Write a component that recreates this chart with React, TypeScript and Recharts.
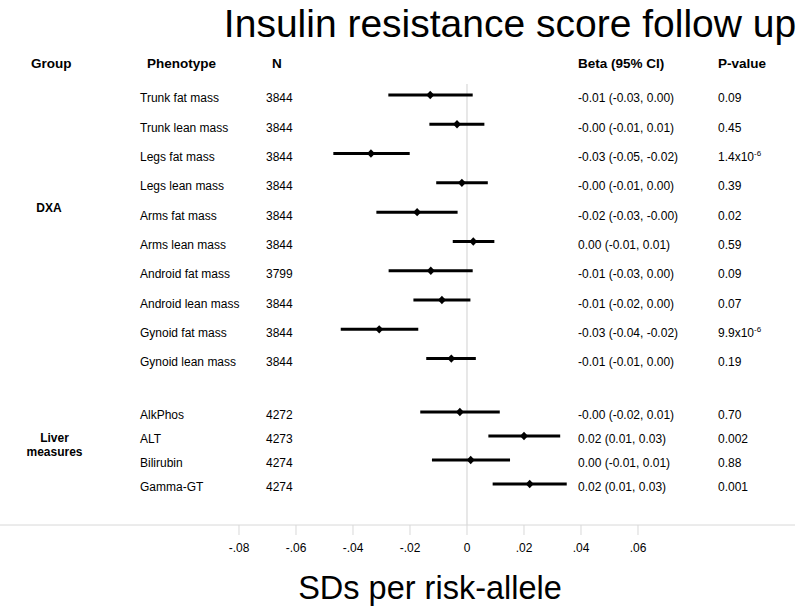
import React from 'react';
import { ScatterChart, Scatter, XAxis, YAxis, ErrorBar, ReferenceLine } from 'recharts';

const groups = ['DXA', 'DXA', 'DXA', 'DXA', 'DXA', 'DXA', 'DXA', 'DXA', 'DXA', 'DXA', 'Liver', 'Liver', 'Liver', 'Liver'];
const phenotypes = [
  'Trunk fat mass', 'Trunk lean mass', 'Legs fat mass', 'Legs lean mass', 'Arms fat mass',
  'Arms lean mass', 'Android fat mass', 'Android lean mass', 'Gynoid fat mass', 'Gynoid lean mass',
  'AlkPhos', 'ALT', 'Bilirubin', 'Gamma-GT',
];
const sampleSizes = [3844, 3844, 3844, 3844, 3844, 3844, 3799, 3844, 3844, 3844, 4272, 4273, 4274, 4274];
const betas = [-0.0129, -0.0035, -0.0337, -0.0018, -0.0175, 0.0022, -0.0127, -0.0088, -0.0308, -0.0055, -0.0025, 0.02, 0.0013, 0.022];
const ciLow = [-0.0276, -0.0132, -0.0469, -0.0108, -0.0318, -0.005, -0.0275, -0.0188, -0.0443, -0.0143, -0.0164, 0.0075, -0.0123, 0.009];
const ciHigh = [0.002, 0.0061, -0.0201, 0.0073, -0.0033, 0.0096, 0.002, 0.0012, -0.0171, 0.0031, 0.0115, 0.0327, 0.0151, 0.035];
const betaLabels = [
  '-0.01 (-0.03, 0.00)', '-0.00 (-0.01, 0.01)', '-0.03 (-0.05, -0.02)', '-0.00 (-0.01, 0.00)', '-0.02 (-0.03, -0.00)',
  '0.00 (-0.01, 0.01)', '-0.01 (-0.03, 0.00)', '-0.01 (-0.02, 0.00)', '-0.03 (-0.04, -0.02)', '-0.01 (-0.01, 0.00)',
  '-0.00 (-0.02, 0.01)', '0.02 (0.01, 0.03)', '0.00 (-0.01, 0.01)', '0.02 (0.01, 0.03)',
];
const pValues = ['0.09', '0.45', '1.4x10^-6', '0.39', '0.02', '0.59', '0.09', '0.07', '9.9x10^-6', '0.19', '0.70', '0.002', '0.88', '0.001'];
const xTicks = [-0.08, -0.06, -0.04, -0.02, 0, 0.02, 0.04, 0.06];

const FONT = '"Liberation Sans", Arial, sans-serif';

// row slots: DXA rows one unit apart, liver rows a bit tighter after a gap
let dxaCount = 0;
let liverCount = 0;
const rows = phenotypes.map((name, i) => {
  const slot = groups[i] === 'DXA' ? dxaCount++ : 10.82 + 0.82 * liverCount++;
  return {
    slot,
    beta: betas[i],
    err: [betas[i] - ciLow[i], ciHigh[i] - betas[i]],
    name,
    n: sampleSizes[i],
    label: betaLabels[i],
    p: pValues[i],
  };
});

const fmtTick = (v: number) => {
  if (v === 0) return '0';
  const s = Math.abs(v).toFixed(2).replace(/^0/, '');
  return (v < 0 ? '-' : '') + s;
};

const PText = ({ x, y, p }: { x: number; y: number; p: string }) => {
  const [base, exp] = p.split('^');
  return (
    <text x={x} y={y} fontSize={12} fontFamily={FONT} fill="#000">
      {base}
      {exp && (
        <tspan fontSize={8} dy={-5}>
          {exp}
        </tspan>
      )}
    </text>
  );
};

const RowShape = (props: any) => {
  const { cx, cy, payload } = props;
  const ty = cy + 7.5;
  return (
    <g>
      <path d={`M${cx},${cy - 4.2} L${cx + 4},${cy} L${cx},${cy + 4.2} L${cx - 4},${cy} Z`} fill="#000" />
      <text x={140} y={ty} fontSize={12} fontFamily={FONT} fill="#000">{payload.name}</text>
      <text x={266} y={ty} fontSize={12} fontFamily={FONT} fill="#000">{payload.n}</text>
      <text x={578} y={ty} fontSize={12} fontFamily={FONT} fill="#000">{payload.label}</text>
      <PText x={718} y={ty} p={payload.p} />
    </g>
  );
};

export default function App() {
  return (
    <div style={{ position: 'absolute', left: 0, top: 0, width: 800, height: 616, background: '#fff' }}>
      <ScatterChart width={800} height={616} margin={{ top: 84, right: 5, bottom: 0, left: 0 }}>
        <XAxis
          xAxisId="top"
          orientation="top"
          type="number"
          dataKey="beta"
          domain={[-0.16386, 0.11509]}
          allowDataOverflow
          height={0}
          tick={false}
          tickLine={false}
          axisLine={{ stroke: '#ececec' }}
        />
        <XAxis
          type="number"
          dataKey="beta"
          domain={[-0.16386, 0.11509]}
          allowDataOverflow
          ticks={xTicks}
          tickFormatter={fmtTick}
          height={91}
          tickSize={10}
          tickMargin={8}
          axisLine={{ stroke: '#d8d8d8' }}
          tickLine={{ stroke: '#d8d8d8' }}
          tick={{ fill: '#000', fontSize: 12, fontFamily: FONT }}
        />
        <YAxis type="number" dataKey="slot" domain={[-0.375, 14.68]} reversed hide allowDataOverflow />
        <ReferenceLine x={0} stroke="#d0d0d0" />
        <Scatter data={rows} shape={(p: any) => <RowShape {...p} />} isAnimationActive={false}>
          <ErrorBar dataKey="err" direction="x" width={0} strokeWidth={3} stroke="#000" isAnimationActive={false} />
        </Scatter>
      </ScatterChart>
      <svg width={800} height={616} style={{ position: 'absolute', left: 0, top: 0, pointerEvents: 'none' }}>
        <text x={510} y={37} fontSize={39} fontFamily={FONT} textAnchor="middle" fill="#000">
          Insulin resistance score follow up
        </text>
        <g fontSize={13.5} fontWeight="bold" fontFamily={FONT} fill="#000">
          <text x={31} y={68}>Group</text>
          <text x={147} y={68}>Phenotype</text>
          <text x={272} y={68}>N</text>
          <text x={578} y={68}>Beta (95% CI)</text>
          <text x={718} y={68}>P-value</text>
        </g>
        <g fontSize={12} fontWeight="bold" fontFamily={FONT} fill="#000" textAnchor="middle">
          <text x={49} y={212}>DXA</text>
          <text x={54.5} y={441.5}>Liver</text>
          <text x={54.5} y={455.5}>measures</text>
        </g>
        <text x={430} y={599} fontSize={32.5} fontFamily={FONT} textAnchor="middle" fill="#000">
          SDs per risk-allele
        </text>
      </svg>
    </div>
  );
}
